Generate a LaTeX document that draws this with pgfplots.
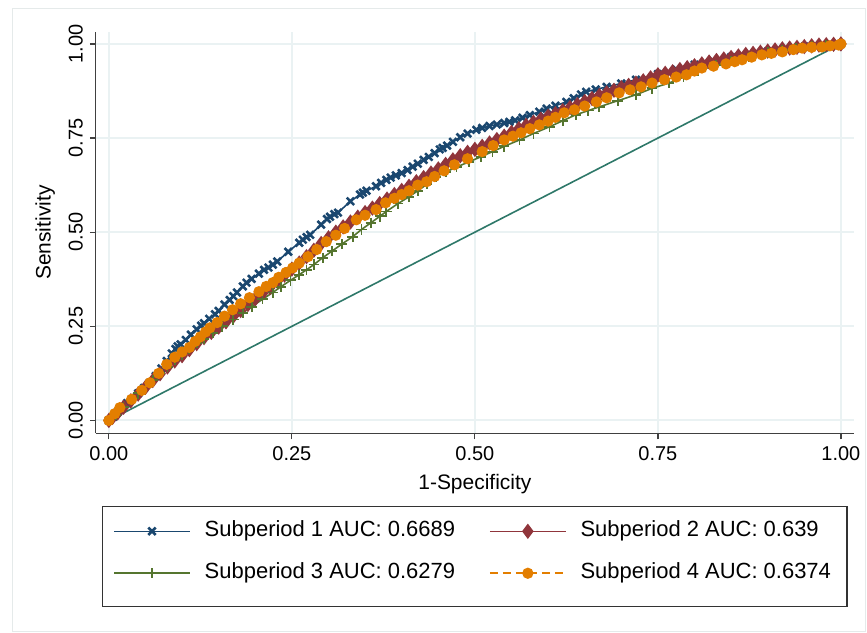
\documentclass[border=0pt]{standalone}
\usepackage{pgfplots}
\pgfplotsset{compat=1.18}
\usepackage{fontspec}
\setmainfont{Liberation Sans}

\definecolor{snavy}{RGB}{26,71,111}
\definecolor{smaroon}{RGB}{144,53,59}
\definecolor{sgreen}{RGB}{85,117,47}
\definecolor{sorange}{RGB}{227,126,0}
\definecolor{steal}{RGB}{46,120,105}
\definecolor{sgrid}{RGB}{234,242,243}

\begin{document}
\begin{tikzpicture}
\begin{axis}[
    at={(48pt,99.5pt)}, anchor=south west,
    scale only axis, width=379.5pt, height=201pt,
    xmin=-0.01774, xmax=1.01774,
    ymin=-0.0345, ymax=1.0318,
    axis lines*=left,
    axis line style={black!75, line width=0.6pt},
    tick align=outside, major tick length=3pt,
    tick style={black!75, line width=0.6pt},
    xtick={0,0.25,0.5,0.75,1}, ytick={0,0.25,0.5,0.75,1},
    xticklabels={0.00,0.25,0.50,0.75,1.00},
    yticklabels={0.00,0.25,0.50,0.75,1.00},
    grid=major, grid style={sgrid, line width=1pt},
    ticklabel style={font=\fontsize{10}{12}\selectfont},
    y tick label style={rotate=90, anchor=south},
    xlabel={1-Specificity}, ylabel={Sensitivity},
    label style={font=\fontsize{10.5}{12.6}\selectfont},
    legend columns=2,
    legend cell align=left,
    legend image code/.code={\draw[mark repeat=2,mark phase=2,#1] plot coordinates {(0pt,0pt) (19pt,0pt) (38pt,0pt)};},
    legend style={at={(axis description cs:0.0224,-0.296)}, anchor=west,
        draw=none, fill=none, inner sep=0pt,
        font=\fontsize{11}{13}\selectfont,
        nodes={inner xsep=0pt, inner ysep=0pt, text height=8pt, text depth=3pt},
        row sep=10pt,
        /tikz/every odd column/.append style={column sep=7pt},
        /tikz/every even column/.append style={column sep=17pt}},
]

% Subperiod 1
\addplot[snavy, line width=0.8pt, mark=x, mark size=2.6pt, mark options={solid, line width=1.3pt}] coordinates {
(0,0) (0.006,0.01) (0.012,0.022) (0.018,0.034) (0.025,0.046) (0.031,0.056)
(0.04,0.072) (0.048,0.086) (0.056,0.1) (0.064,0.118) (0.072,0.138) (0.079,0.158)
(0.086,0.178) (0.091,0.19) (0.094,0.197) (0.098,0.202) (0.105,0.214) (0.112,0.228)
(0.12,0.242) (0.126,0.252) (0.13,0.258) (0.137,0.27) (0.145,0.282) (0.15,0.291)
(0.158,0.308) (0.165,0.32) (0.17,0.33) (0.175,0.34) (0.183,0.356) (0.188,0.366)
(0.195,0.376) (0.205,0.39) (0.212,0.4) (0.218,0.406) (0.224,0.414) (0.23,0.422)
(0.245,0.448) (0.26,0.472) (0.265,0.48) (0.27,0.487) (0.275,0.493) (0.29,0.52)
(0.298,0.535) (0.302,0.541) (0.308,0.548) (0.313,0.552) (0.33,0.582) (0.343,0.6)
(0.347,0.605) (0.352,0.61) (0.365,0.622) (0.372,0.631) (0.379,0.639) (0.385,0.645)
(0.392,0.651) (0.4,0.657) (0.408,0.665) (0.415,0.674) (0.422,0.682) (0.43,0.692)
(0.437,0.7) (0.445,0.71) (0.452,0.72) (0.456,0.724) (0.462,0.73) (0.47,0.74)
(0.48,0.752) (0.49,0.762) (0.502,0.772) (0.51,0.777) (0.52,0.782) (0.53,0.786)
(0.54,0.79) (0.547,0.793) (0.555,0.797) (0.565,0.804) (0.575,0.811) (0.588,0.82)
(0.598,0.828) (0.61,0.836) (0.625,0.846) (0.635,0.856) (0.645,0.866) (0.652,0.873)
(0.665,0.879) (0.68,0.886) (0.7,0.895) (0.72,0.905) (0.75,0.92) (0.775,0.932)
(0.8,0.945) (0.825,0.955) (0.85,0.965) (0.875,0.973) (0.9,0.98) (0.925,0.987)
(0.95,0.993) (0.975,0.997) (1,1)
};

% Subperiod 2
\addplot[smaroon, line width=0.8pt, mark=diamond*, mark size=3.2pt, mark options={solid}] coordinates {
(0,0) (0.005,0.008) (0.012,0.02) (0.02,0.035) (0.03,0.052) (0.04,0.07)
(0.05,0.088) (0.06,0.106) (0.07,0.124) (0.08,0.142) (0.09,0.158) (0.1,0.172)
(0.11,0.188) (0.12,0.204) (0.13,0.22) (0.14,0.234) (0.15,0.248) (0.16,0.262)
(0.17,0.277) (0.18,0.292) (0.19,0.308) (0.2,0.323) (0.21,0.338) (0.22,0.353)
(0.23,0.37) (0.24,0.386) (0.25,0.402) (0.26,0.418) (0.27,0.435) (0.28,0.452)
(0.29,0.47) (0.3,0.485) (0.31,0.5) (0.32,0.514) (0.33,0.527) (0.34,0.54)
(0.35,0.552) (0.36,0.564) (0.37,0.576) (0.38,0.588) (0.39,0.6) (0.4,0.611)
(0.41,0.622) (0.42,0.634) (0.43,0.645) (0.44,0.657) (0.45,0.668) (0.46,0.68)
(0.47,0.692) (0.48,0.703) (0.49,0.712) (0.5,0.72) (0.51,0.728) (0.52,0.737)
(0.53,0.746) (0.54,0.755) (0.55,0.765) (0.56,0.775) (0.57,0.784) (0.58,0.792)
(0.59,0.8) (0.6,0.808) (0.61,0.815) (0.62,0.823) (0.63,0.831) (0.64,0.839)
(0.65,0.847) (0.66,0.855) (0.67,0.863) (0.68,0.87) (0.69,0.877) (0.7,0.884)
(0.71,0.89) (0.72,0.896) (0.73,0.902) (0.74,0.91) (0.75,0.918) (0.76,0.922)
(0.77,0.926) (0.78,0.932) (0.79,0.937) (0.8,0.942) (0.81,0.947) (0.82,0.952)
(0.83,0.956) (0.84,0.96) (0.85,0.964) (0.86,0.968) (0.87,0.972) (0.88,0.975)
(0.89,0.978) (0.9,0.981) (0.91,0.984) (0.92,0.987) (0.93,0.989) (0.94,0.991)
(0.95,0.993) (0.96,0.995) (0.97,0.997) (0.98,0.998) (0.99,0.999) (1,1)
};

% Subperiod 3
\addplot[sgreen, line width=0.8pt, mark=+, mark size=2.6pt, mark options={solid, line width=0.9pt}] coordinates {
(0,0) (0.01,0.015) (0.02,0.035) (0.03,0.055) (0.04,0.072) (0.05,0.09)
(0.06,0.108) (0.07,0.126) (0.08,0.143) (0.09,0.16) (0.1,0.175) (0.11,0.19)
(0.12,0.205) (0.13,0.217) (0.142,0.233) (0.155,0.25) (0.17,0.268) (0.183,0.286)
(0.195,0.302) (0.21,0.322) (0.224,0.34) (0.235,0.355) (0.248,0.372) (0.26,0.387)
(0.27,0.4) (0.28,0.414) (0.292,0.432) (0.305,0.45) (0.318,0.468) (0.333,0.488)
(0.345,0.507) (0.358,0.525) (0.37,0.542) (0.379,0.555) (0.395,0.576) (0.41,0.594)
(0.422,0.61) (0.435,0.628) (0.447,0.647) (0.46,0.66) (0.475,0.673) (0.492,0.687)
(0.508,0.7) (0.524,0.714) (0.54,0.728) (0.561,0.745) (0.58,0.762) (0.602,0.78)
(0.62,0.796) (0.638,0.812) (0.655,0.823) (0.67,0.833) (0.695,0.849) (0.72,0.865)
(0.742,0.882) (0.765,0.896) (0.785,0.912) (0.805,0.928) (0.829,0.944) (0.85,0.955)
(0.874,0.966) (0.9,0.977) (0.92,0.984) (0.939,0.989) (0.96,0.993) (0.98,0.997)
(1,1)
};

% Subperiod 4
\addplot[sorange, line width=0.8pt, dash pattern=on 4pt off 2.5pt, mark=*, mark size=2.4pt, mark options={solid}] coordinates {
(0,0) (0.008,0.018) (0.015,0.034) (0.031,0.056) (0.045,0.08) (0.056,0.1)
(0.068,0.125) (0.079,0.149) (0.09,0.168) (0.1,0.182) (0.11,0.194) (0.118,0.21)
(0.125,0.222) (0.132,0.235) (0.138,0.246) (0.148,0.26) (0.158,0.277) (0.169,0.294)
(0.18,0.31) (0.192,0.326) (0.205,0.342) (0.215,0.356) (0.224,0.366) (0.232,0.38)
(0.242,0.393) (0.251,0.405) (0.26,0.418) (0.272,0.435) (0.284,0.454) (0.297,0.475)
(0.31,0.492) (0.322,0.51) (0.338,0.533) (0.35,0.545) (0.365,0.56) (0.378,0.578)
(0.39,0.59) (0.4,0.6) (0.41,0.61) (0.422,0.625) (0.434,0.634) (0.445,0.648)
(0.458,0.663) (0.472,0.679) (0.49,0.695) (0.51,0.714) (0.525,0.73) (0.54,0.745)
(0.552,0.755) (0.563,0.764) (0.575,0.775) (0.588,0.785) (0.6,0.795) (0.61,0.805)
(0.622,0.817) (0.636,0.825) (0.65,0.835) (0.666,0.846) (0.68,0.857) (0.697,0.87)
(0.712,0.878) (0.727,0.886) (0.742,0.896) (0.759,0.905) (0.775,0.912) (0.789,0.918)
(0.8,0.928) (0.81,0.936) (0.826,0.941) (0.843,0.947) (0.855,0.953) (0.865,0.958)
(0.878,0.965) (0.892,0.971) (0.905,0.975) (0.92,0.979) (0.935,0.985) (0.947,0.989)
(0.96,0.991) (0.974,0.992) (0.985,0.995) (0.997,0.997) (1,1)
};

% reference line
\addplot[steal, line width=0.8pt, forget plot] coordinates {(0,0) (1,1)};

\legend{Subperiod 1 AUC: 0.6689, Subperiod 2 AUC: 0.639, Subperiod 3 AUC: 0.6279, Subperiod 4 AUC: 0.6374}
\end{axis}
\draw[black!80, line width=0.6pt] (51.5pt,13pt) rectangle (424pt,63pt);
\draw[sgrid!80!gray!60, line width=0.4pt] (6pt,0.3pt) rectangle (433.2pt,312.5pt);
\path[use as bounding box] (0,0) rectangle (433.5pt,316.5pt);
\end{tikzpicture}
\end{document}
